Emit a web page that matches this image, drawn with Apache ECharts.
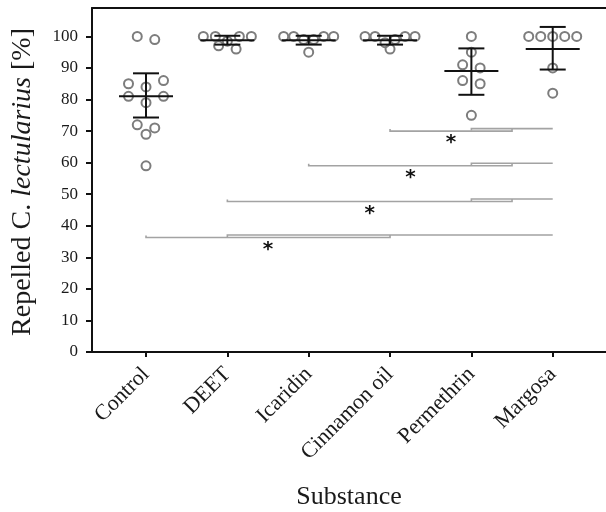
<!DOCTYPE html>
<html>
<head>
<meta charset="utf-8">
<script src="https://cdn.jsdelivr.net/npm/echarts@6/dist/echarts.min.js"></script>
<style>html,body{margin:0;padding:0;background:#fff;}#c{width:606px;height:512px;}</style>
</head>
<body>
<div id="c"></div>
<script>
const categories = ['Control', 'DEET', 'Icaridin', 'Cinnamon oil', 'Permethrin', 'Margosa'];
const controlValues = [100, 99, 86, 85, 84, 81, 81, 79, 72, 71, 69, 59];
const deetValues = [100, 100, 100, 100, 98.5, 97, 96];
const icaridinValues = [100, 100, 100, 100, 99, 99, 95];
const cinnamonValues = [100, 100, 100, 100, 99, 98, 96];
const permethrinValues = [100, 95, 91, 90, 86, 85, 75];
const margosaValues = [100, 100, 100, 100, 100, 90, 82];
const meanValues = [81, 98.8, 98.8, 98.8, 89, 96];
const ciLower = [74.3, 97.4, 97.4, 97.4, 81.5, 89.5];
const ciUpper = [88.3, 100.2, 100.2, 100.2, 96.2, 103];
const sigFrom = [3, 2, 1, 0];
const sigGroupStart = [4, 4, 4, 1];
const sigGroupEnd = [5, 5, 5, 5];
const sigLevel = [70, 59, 47.7, 36.3];
const sigLabel = ['*', '*', '*', '*'];
const yTicks = [0, 10, 20, 30, 40, 50, 60, 70, 80, 90, 100];
const xTicks = [0, 1, 2, 3, 4, 5];
const xAxisTitle = 'Substance';

const groups = [controlValues, deetValues, icaridinValues, cinnamonValues, permethrinValues, margosaValues];

// layout
const GRID = {left: 92, right: 0, top: 8, bottom: 160};
const Y_MAX = 109;
const PX_PER_Y = (512 - GRID.top - GRID.bottom) / Y_MAX;
const ROW_PX = 7;        // px height of a jitter row
const MAX_STEP = 17.5;   // px max spacing in a row
const ROW_WIDTH = 60;    // px spread budget

// row-based symmetric scatter (GraphPad-like)
const pointData = [];
groups.forEach((vals, gi) => {
  const sorted = vals.slice().sort((a, b) => b - a);
  const rows = [];
  sorted.forEach(v => {
    const last = rows[rows.length - 1];
    if (last && (last[0] - v) * PX_PER_Y <= ROW_PX) last.push(v); else rows.push([v]);
  });
  rows.forEach(row => {
    const n = row.length;
    const step = Math.min(MAX_STEP, ROW_WIDTH / n);
    const ordered = n === 2 ? row.slice().sort((a, b) => b - a) : row.slice().sort((a, b) => a - b);
    const slots = [];
    for (let i = 0; i < n; i++) slots.push(i - (n - 1) / 2);
    slots.sort((a, b) => Math.abs(a) - Math.abs(b) || a - b);
    ordered.forEach((v, k) => pointData.push([gi, v, slots[k] * step]));
  });
});

const errData = categories.map((c, i) => [i, meanValues[i], ciLower[i], ciUpper[i]]);
const sigData = sigFrom.map((f, i) => [f, sigGroupStart[i], sigGroupEnd[i], sigLevel[i], i]);

const chart = echarts.init(document.getElementById('c'), null, {renderer: 'canvas'});
const SERIF = 'Liberation Serif';
const SIG_COLOR = '#a3a3a3';

chart.setOption({
  animation: false,
  backgroundColor: '#fff',
  grid: {left: GRID.left, right: GRID.right, top: GRID.top, bottom: GRID.bottom},
  xAxis: [{
    type: 'value', min: -0.664, max: 5.655,
    axisLine: {show: true, onZero: false, lineStyle: {color: '#111', width: 2}},
    axisTick: {show: true, customValues: xTicks, length: 5, lineStyle: {color: '#111', width: 2}},
    axisLabel: {show: true, customValues: xTicks, formatter: v => categories[Math.round(v)] || '',
      rotate: 45, fontFamily: SERIF, fontSize: 22, color: '#1a1a1a', margin: 19},
    splitLine: {show: false}
  }, {
    type: 'value', position: 'top', min: -0.664, max: 5.655,
    axisLine: {show: true, onZero: false, lineStyle: {color: '#111', width: 2}},
    axisTick: {show: false}, axisLabel: {show: false}, splitLine: {show: false}
  }],
  yAxis: {
    type: 'value', min: 0, max: Y_MAX,
    axisLine: {show: true, onZero: false, lineStyle: {color: '#111', width: 2}},
    axisTick: {show: true, customValues: yTicks, length: 6, lineStyle: {color: '#111', width: 2}},
    axisLabel: {show: true, customValues: yTicks, fontFamily: SERIF, fontSize: 17, color: '#1a1a1a', margin: 14},
    splitLine: {show: false}
  },
  graphic: [{
    type: 'text', x: 23, y: 182, rotation: Math.PI / 2,
    style: {
      text: '{n|Repelled C. }{i|lectularius}{n| [%]}',
      rich: {
        n: {fontFamily: SERIF, fontSize: 28, fill: '#1a1a1a'},
        i: {fontFamily: SERIF, fontSize: 28, fontStyle: 'italic', fill: '#1a1a1a'}
      },
      align: 'center', verticalAlign: 'middle'
    }
  }, {
    type: 'text', x: 349, y: 497,
    style: {text: xAxisTitle, fontFamily: SERIF, fontSize: 26, fill: '#1a1a1a', align: 'center', verticalAlign: 'middle'}
  }],
  series: [{
    type: 'custom', name: 'points', data: pointData, clip: false,
    renderItem: (params, api) => {
      const p = api.coord([api.value(0), api.value(1)]);
      return {type: 'circle', shape: {cx: p[0] + api.value(2), cy: p[1], r: 4.5},
        style: {fill: 'none', stroke: '#7d7d7d', lineWidth: 2}};
    }
  }, {
    type: 'custom', name: 'errors', data: errData, clip: false,
    renderItem: (params, api) => {
      const m = api.coord([api.value(0), api.value(1)]);
      const lo = api.coord([api.value(0), api.value(2)]);
      const hi = api.coord([api.value(0), api.value(3)]);
      const st = {stroke: '#111', lineWidth: 2};
      return {type: 'group', children: [
        {type: 'line', shape: {x1: m[0] - 27, y1: m[1], x2: m[0] + 27, y2: m[1]}, style: st},
        {type: 'line', shape: {x1: lo[0], y1: lo[1], x2: hi[0], y2: hi[1]}, style: st},
        {type: 'line', shape: {x1: lo[0] - 13, y1: lo[1], x2: lo[0] + 13, y2: lo[1]}, style: st},
        {type: 'line', shape: {x1: hi[0] - 13, y1: hi[1], x2: hi[0] + 13, y2: hi[1]}, style: st}
      ]};
    }
  }, {
    type: 'custom', name: 'sig', data: sigData, clip: false,
    renderItem: (params, api) => {
      const from = api.value(0), gs = api.value(1), ge = api.value(2), lvl = api.value(3);
      const mid = (gs + ge) / 2;
      const a = api.coord([from, lvl]);
      const b = api.coord([mid, lvl]);
      const s = api.coord([gs, lvl]);
      const e = api.coord([ge, lvl]);
      const up = 2.5;
      const st = {stroke: SIG_COLOR, lineWidth: 1.6, fill: 'none'};
      const starX = (a[0] + b[0]) / 2;
      return {type: 'group', children: [
        {type: 'polyline', shape: {points: [[a[0], a[1] - 2], [a[0], a[1]], [b[0], b[1]], [b[0], b[1] - up]]}, style: st},
        {type: 'polyline', shape: {points: [[s[0], s[1] - up + 2], [s[0], s[1] - up], [e[0], e[1] - up]]}, style: st},
        {type: 'text', x: starX, y: a[1] + 12,
          style: {text: sigLabel[api.value(4)], fontFamily: 'DejaVu Sans', fontWeight: 'bold', fontSize: 20, fill: '#111', align: 'center', verticalAlign: 'middle'}}
      ]};
    }
  }]
});
</script>
</body>
</html>
